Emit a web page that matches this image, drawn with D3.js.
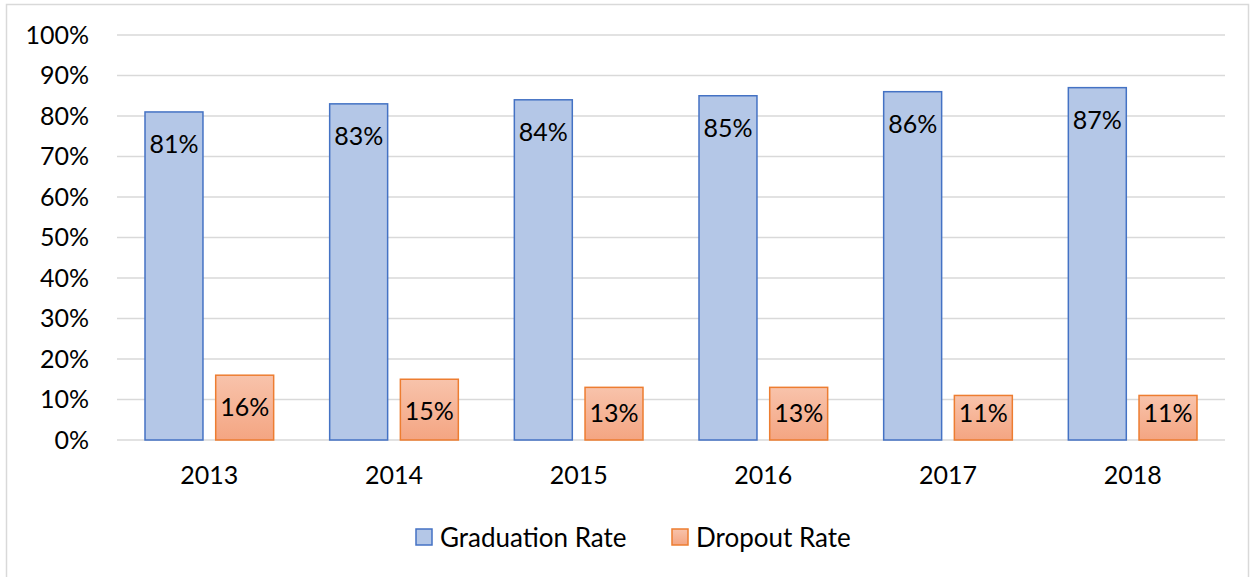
<!DOCTYPE html>
<html>
<head>
<meta charset="utf-8">
<script src="https://cdn.jsdelivr.net/npm/d3@7"></script>
<style>
  body { margin: 0; background: #fff; }
  svg { display: block; font-family: Lato, "Open Sans", sans-serif; }
</style>
</head>
<body>
<svg id="chart" width="1253" height="577"></svg>
<script>
// Chart data
const years = ["2013", "2014", "2015", "2016", "2017", "2018"];
const graduationRate = [81, 83, 84, 85, 86, 87];
const dropoutRate = [16, 15, 13, 13, 11, 11];
const seriesNames = ["Graduation Rate", "Dropout Rate"];
const yTicks = [0, 10, 20, 30, 40, 50, 60, 70, 80, 90, 100];

const svg = d3.select("#chart");
const margin = {top: 35, right: 28, bottom: 137, left: 117};
const width = 1253 - margin.left - margin.right;
const height = 577 - margin.top - margin.bottom;
const fontSize = "25px";

// Outer chart border
svg.append("rect")
  .attr("x", 6.5)
  .attr("y", 4.5)
  .attr("width", 1242)
  .attr("height", 580)
  .attr("fill", "#fff")
  .attr("stroke", "#d9d9d9")
  .attr("stroke-width", 1.5);

const defs = svg.append("defs");
const grad = defs.append("linearGradient")
  .attr("id", "dropFill")
  .attr("x1", 0).attr("y1", 0).attr("x2", 0).attr("y2", 1);
grad.append("stop").attr("offset", "0%").attr("stop-color", "#f8c3ab");
grad.append("stop").attr("offset", "100%").attr("stop-color", "#f4a582");

const g = svg.append("g").attr("transform", `translate(${margin.left},${margin.top})`);

const x0 = d3.scaleBand().domain(years).range([0, width]).padding(0);
const x1 = d3.scaleBand().domain(seriesNames).range([28, x0.bandwidth() - 28]).paddingInner(0.18);
const y = d3.scaleLinear().domain([0, 100]).range([height, 0]);

// Grid lines
g.append("g")
  .selectAll("line")
  .data(yTicks)
  .enter()
  .append("line")
  .attr("x1", 0)
  .attr("x2", width)
  .attr("y1", d => y(d))
  .attr("y2", d => y(d))
  .attr("stroke", "#d9d9d9")
  .attr("stroke-width", 1.5);

// Y axis labels
const yAxis = g.append("g")
  .call(d3.axisLeft(y).tickValues(yTicks).tickFormat(d => d + "%").tickSize(0).tickPadding(28));
yAxis.select(".domain").remove();
yAxis.selectAll("text")
  .attr("font-family", "Lato, 'Open Sans', sans-serif")
  .attr("font-size", fontSize)
  .attr("fill", "#000");

// X axis labels
const xAxis = g.append("g")
  .attr("transform", `translate(0,${height})`)
  .call(d3.axisBottom(x0).tickSize(0).tickPadding(26));
xAxis.select(".domain").remove();
xAxis.selectAll("text")
  .attr("font-family", "Lato, 'Open Sans', sans-serif")
  .attr("font-size", fontSize)
  .attr("fill", "#000");

const styles = {
  "Graduation Rate": {fill: "#b4c7e7", stroke: "#4472c4", values: graduationRate},
  "Dropout Rate": {fill: "url(#dropFill)", stroke: "#ed7d31", values: dropoutRate}
};

// Bars and labels (inside end, kept inside the bar near the baseline)
seriesNames.forEach(name => {
  const s = styles[name];
  const bars = g.append("g");
  bars.selectAll("rect")
    .data(years)
    .enter()
    .append("rect")
    .attr("x", (d) => x0(d) + x1(name))
    .attr("y", (d, i) => y(s.values[i]))
    .attr("width", x1.bandwidth())
    .attr("height", (d, i) => height - y(s.values[i]))
    .attr("fill", s.fill)
    .attr("stroke", s.stroke)
    .attr("stroke-width", 1.5);

  bars.selectAll("text")
    .data(years)
    .enter()
    .append("text")
    .attr("x", d => x0(d) + x1(name) + x1.bandwidth() / 2)
    .attr("y", (d, i) => Math.min(y(s.values[i]) + 31, height - 28))
    .attr("text-anchor", "middle")
    .attr("dominant-baseline", "central")
    .attr("font-size", fontSize)
    .attr("fill", "#000")
    .text((d, i) => s.values[i] + "%");
});

// Legend
const legend = svg.append("g").attr("transform", "translate(416,537)");
const legendX = [0, 256];
seriesNames.forEach((name, i) => {
  const s = styles[name];
  const item = legend.append("g").attr("transform", `translate(${legendX[i]},0)`);
  item.append("rect")
    .attr("x", 0)
    .attr("y", -8)
    .attr("width", 16)
    .attr("height", 16)
    .attr("fill", s.fill)
    .attr("stroke", s.stroke)
    .attr("stroke-width", 1.5);
  item.append("text")
    .attr("x", 24)
    .attr("y", 0)
    .attr("dominant-baseline", "central")
    .attr("font-size", "26px")
    .attr("fill", "#000")
    .text(name);
});
</script>
</body>
</html>
